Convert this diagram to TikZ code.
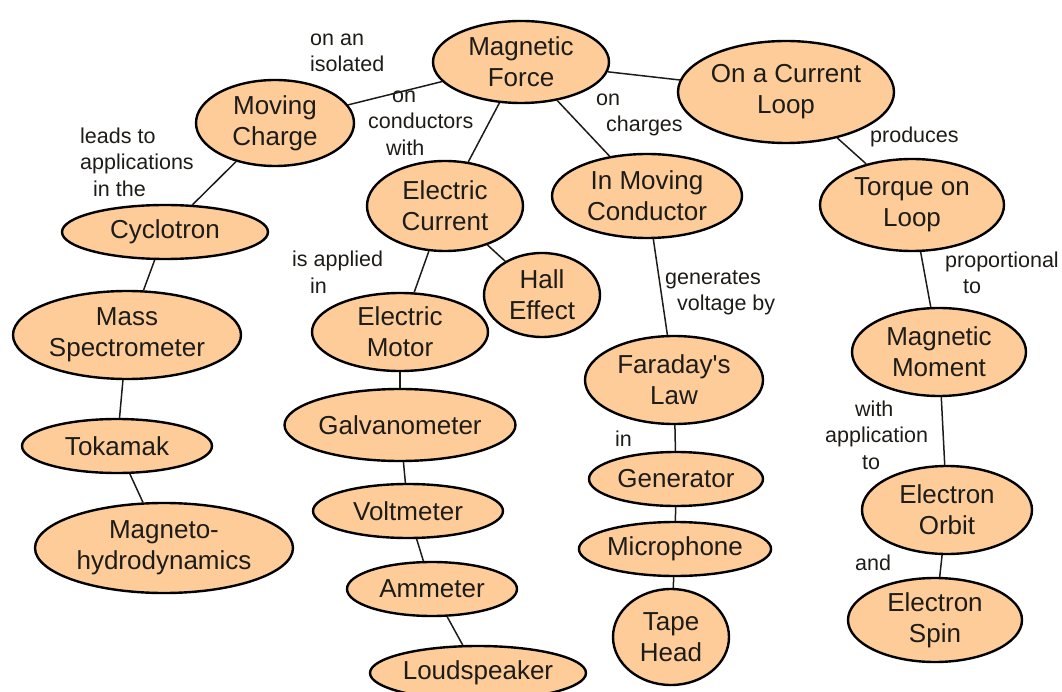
\documentclass[tikz,border=0pt]{standalone}
\usepackage{fontspec}
\setmainfont{Liberation Sans}
\usetikzlibrary{shapes.geometric}
\definecolor{peach}{RGB}{254,204,153}
\definecolor{ink}{RGB}{30,28,24}
\tikzset{
  concept/.style={ellipse, draw=black, line width=2.4pt, fill=peach, inner sep=0pt,
    text=ink, align=center, font=\fontsize{26}{31}\selectfont},
  link/.style={draw=ink, line width=1.5pt},
  lbl/.style={text=ink, align=left, inner sep=0pt, anchor=west, font=\fontsize{21.5}{26.5}\selectfont}
}
\newcommand{\cn}[5]{\node[concept, minimum width=#3pt, minimum height=#4pt] (#1) at #2 {#5};}
\begin{document}
\begin{tikzpicture}[x=1pt,y=-1pt]
\useasboundingbox (0,0) rectangle (1062,692);
\cn{mf}{(521,62)}{176}{82}{Magnetic\\Force}
\cn{mc}{(275,123)}{158}{86}{Moving\\Charge}
\cn{cl}{(786,92)}{216}{102}{On a Current\\Loop}
\cn{ec}{(445,206)}{156}{90}{Electric\\Current}
\cn{imc}{(647,196)}{190}{84}{In Moving\\Conductor}
\cn{tl}{(912,205)}{184}{92}{Torque on\\Loop}
\cn{cy}{(165,232)}{206}{54}{Cyclotron}
\cn{ms}{(127,335)}{228}{88}{Mass\\Spectrometer}
\cn{tk}{(117,446)}{190}{54}{Tokamak}
\cn{mhd}{(164,548)}{258}{90}{Magneto-\\hydrodynamics}
\cn{he}{(542,295)}{116}{84}{Hall\\Effect}
\cn{em}{(400,332)}{176}{78}{Electric\\Motor}
\cn{ga}{(400,425)}{230}{72}{Galvanometer}
\cn{vm}{(408,511)}{190}{54}{Voltmeter}
\cn{am}{(432,589)}{170}{54}{Ammeter}
\cn{ls}{(478,673)}{216}{54}{Loudspeaker}
\cn{fl}{(674,380)}{178}{88}{Faraday\textquotesingle s\\Law}
\cn{ge}{(676,479)}{174}{54}{Generator}
\cn{mi}{(675,549)}{174}{54}{Microphone}
\cn{th}{(671,637)}{116}{96}{Tape\\Head}
\cn{mm}{(939,352)}{174}{88}{Magnetic\\Moment}
\cn{eo}{(947,510)}{170}{88}{Electron\\Orbit}
\cn{es}{(935,620)}{174}{84}{Electron\\Spin}

\path[link] (mf) -- (mc);
\path[link] (mf) -- (ec);
\path[link] (mf) -- (imc);
\path[link] (mf) -- (cl);
\path[link] (mc) -- (cy);
\path[link] (cy) -- (ms);
\path[link] (ms) -- (tk);
\path[link] (tk) -- (mhd);
\path[link] (ec) -- (em);
\path[link] (ec) -- (he);
\path[link] (em) -- (ga);
\path[link] (ga) -- (vm);
\path[link] (vm) -- (am);
\path[link] (am) -- (ls);
\path[link] (imc) -- (fl);
\path[link] (fl) -- (ge);
\path[link] (ge) -- (mi);
\path[link] (mi) -- (th);
\path[link] (cl) -- (tl);
\path[link] (tl) -- (mm);
\path[link] (mm) -- (eo);
\path[link] (eo) -- (es);

\node[lbl] (l1) at (310,53) {on an\\isolated};
\node[lbl] (l2) at (368,123) {\hspace*{24pt}on\\conductors\\\hspace*{18pt}with};
\node[lbl] (l3) at (80,162) {leads to\\applications\\\hspace*{13pt}in the};
\node[lbl] (l4) at (292,272) {is applied\\\hspace*{18pt}in};
\node[lbl] (l5) at (596,115) {on\\\hspace*{10pt}charges};
\node[lbl] (l6) at (870,137) {produces};
\node[lbl] (l7) at (665,293) {generates\\\hspace*{12pt}voltage by};
\node[lbl] (l8) at (945,273) {proportional\\\hspace*{18pt}to};
\node[lbl] (l9) at (615,439) {in};
\node[lbl] (l10) at (825,435) {\hspace*{30pt}with\\application\\\hspace*{37pt}to};
\node[lbl] (l11) at (855,563) {and};
\end{tikzpicture}
\end{document}
